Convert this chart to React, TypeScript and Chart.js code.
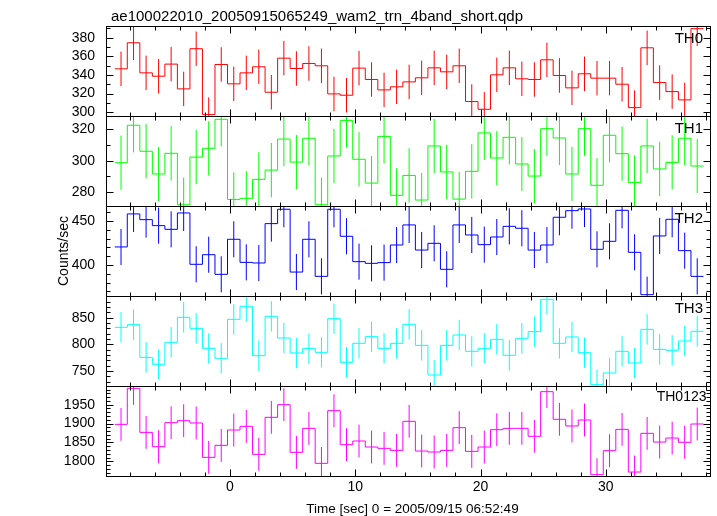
import React, { useEffect, useRef } from "react";
import { Chart, registerables } from "chart.js";

Chart.register(...registerables);

const TITLE = "ae100022010_20050915065249_wam2_trn_4band_short.qdp";
const X_TITLE = "Time [sec] 0 = 2005/09/15 06:52:49";
const Y_TITLE = "Counts/sec";
const PANEL_NAMES = ["TH0", "TH1", "TH2", "TH3", "TH0123"];
const COLORS = ["#ff0000", "#00ff00", "#0000ff", "#00ffff", "#ff00ff"];

// bin centres (s), 1 s bins
const BIN_WIDTH = 1;
const times = [
  -8.7, -7.7, -6.7, -5.7, -4.7, -3.7, -2.7, -1.7, -0.7, 0.3,
  1.3, 2.3, 3.3, 4.3, 5.3, 6.3, 7.3, 8.3, 9.3, 10.3,
  11.3, 12.3, 13.3, 14.3, 15.3, 16.3, 17.3, 18.3, 19.3, 20.3,
  21.3, 22.3, 23.3, 24.3, 25.3, 26.3, 27.3, 28.3, 29.3, 30.3,
  31.3, 32.3, 33.3, 34.3, 35.3, 36.3, 37.3,
];

const th0 = [
  346.6, 374.6, 342.3, 338.7, 351.7, 325.1, 368.2, 297.5, 351.3, 330.5,
  342.3, 348.8, 321.5, 358.1, 347.0, 352.4, 349.9, 319.7, 318.3, 347.4,
  335.2, 324.0, 327.3, 332.6, 337.0, 347.7, 343.4, 349.9, 311.5, 303.2,
  340.2, 347.7, 335.9, 335.2, 356.3, 339.5, 326.2, 341.3, 336.6, 336.6,
  330.1, 305.0, 369.2, 331.9, 322.2, 313.3, 389.7,
];
const th1 = [
  298.7, 322.6, 306.0, 291.5, 304.7, 271.9, 302.3, 307.9, 326.4, 275.3,
  276.0, 288.1, 294.0, 313.8, 299.1, 314.3, 271.9, 303.0, 325.7, 300.9,
  285.7, 315.5, 277.9, 290.6, 274.9, 309.4, 292.8, 275.5, 293.2, 317.7,
  301.7, 314.9, 297.9, 290.2, 320.4, 314.5, 291.5, 320.4, 284.3, 316.2,
  304.5, 286.0, 309.4, 294.7, 298.9, 314.3, 296.6,
];
const th2 = [
  420.5, 458.0, 451.5, 444.7, 440.5, 459.1, 400.8, 411.7, 389.4, 429.2,
  403.0, 402.3, 447.0, 463.3, 392.0, 429.2, 387.1, 463.3, 432.6, 403.8,
  401.9, 402.7, 422.7, 445.5, 417.0, 424.6, 395.1, 445.5, 434.1, 423.1,
  431.8, 443.9, 441.7, 417.0, 422.7, 454.2, 461.7, 463.6, 417.8, 426.9,
  462.1, 414.4, 366.3, 433.0, 451.9, 416.3, 387.1,
];
const th3 = [
  831.9, 836.9, 775.6, 762.5, 803.8, 850.6, 830.0, 792.5, 773.8, 846.9,
  871.3, 778.8, 852.5, 811.9, 783.8, 791.9, 785.0, 848.1, 766.3, 801.9,
  814.4, 792.5, 801.9, 837.5, 798.1, 742.5, 798.1, 817.5, 786.9, 792.5,
  809.4, 779.4, 811.3, 823.8, 884.4, 801.9, 813.8, 784.4, 724.4, 746.3,
  786.9, 765.0, 828.1, 790.6, 788.8, 806.3, 824.4,
];
const th0123 = [
  1897.9, 1993.2, 1876.7, 1838.8, 1902.3, 1907.6, 1901.5, 1810.5, 1842.3, 1882.9,
  1892.6, 1818.5, 1916.5, 1950.0, 1823.8, 1887.3, 1794.7, 1934.1, 1844.1, 1853.8,
  1837.9, 1834.4, 1829.0, 1905.9, 1827.3, 1824.7, 1829.0, 1889.1, 1826.4, 1837.9,
  1883.8, 1887.3, 1887.3, 1866.2, 1984.4, 1911.2, 1893.5, 1909.4, 1764.7, 1828.2,
  1884.7, 1771.7, 1874.1, 1851.1, 1861.7, 1850.3, 1898.8,
];
const SERIES = [th0, th1, th2, th3, th0123];
const ERRORS = [18.5, 17.3, 20.5, 28.5, 43.5];

const Y_MIN = [296, 271.1, 364.8, 721.9, 1761.2];
const Y_MAX = [392.6, 328.5, 467, 890.6, 1999.4];
const Y_MAJOR = [20, 20, 50, 50, 50];
const Y_MINOR = [10, 10, 10, 10, 10];
const X_MIN = -9.9;
const X_MAX = 38.4;
const X_MAJOR = 10;
const X_MINOR = 2;

const FONT = "'Liberation Sans', Arial, Helvetica, sans-serif";
Chart.defaults.font.family = FONT;

const isMult = (v: number, step: number) => Math.abs(v / step - Math.round(v / step)) < 1e-6;

function stepTicks(min: number, max: number, step: number) {
  const out: { value: number }[] = [];
  for (let v = Math.ceil(min / step) * step; v <= max + 1e-9; v += step) {
    out.push({ value: Math.round(v * 1000) / 1000 });
  }
  return out;
}

const panelClip = {
  id: "panelClip",
  beforeDatasetDraw(chart: any, args: any) {
    const ys = chart.scales[args.meta.yAxisID];
    const a = chart.chartArea;
    const ctx = chart.ctx;
    ctx.save();
    ctx.beginPath();
    ctx.rect(a.left, ys.top, a.right - a.left, ys.bottom - ys.top);
    ctx.clip();
  },
  afterDatasetDraw(chart: any) {
    chart.ctx.restore();
  },
};

const frame = {
  id: "frame",
  afterDraw(chart: any) {
    const ctx = chart.ctx;
    const a = chart.chartArea;
    const L = Math.floor(a.left) + 0.5;
    const R = Math.ceil(a.right) - 0.5;
    const xs = chart.scales.x;
    ctx.save();
    ctx.strokeStyle = "#000";
    ctx.lineWidth = 1;
    const bounds: number[] = [];
    for (let i = 0; i < 5; i++) {
      const ys = chart.scales["y" + i];
      const T = Math.floor(ys.top) + 0.5;
      const B = Math.floor(ys.bottom) + 0.5;
      bounds.push(T);
      if (i === 4) bounds.push(B);
      ctx.strokeRect(L, T, R - L, B - T);
      // y ticks (major + minor)
      ctx.beginPath();
      stepTicks(Y_MIN[i], Y_MAX[i], Y_MINOR[i]).forEach(({ value }) => {
        const y = Math.round(ys.getPixelForValue(value)) + 0.5;
        const len = isMult(value, Y_MAJOR[i]) ? 7 : 4;
        ctx.moveTo(L, y);
        ctx.lineTo(L + len, y);
        ctx.moveTo(R, y);
        ctx.lineTo(R - len, y);
      });
      ctx.stroke();
      // panel label
      ctx.fillStyle = "#000";
      ctx.textBaseline = "alphabetic";
      ctx.textAlign = "right";
      if (i < 4) {
        ctx.font = `15px ${FONT}`;
        ctx.fillText(PANEL_NAMES[i], 703, ys.top + 17.3);
      } else {
        ctx.font = `14px ${FONT}`;
        ctx.fillText(PANEL_NAMES[i], 706.5, ys.top + 15);
      }
    }
    // x ticks at every panel boundary
    ctx.beginPath();
    stepTicks(X_MIN, X_MAX, X_MINOR).forEach(({ value }) => {
      const x = Math.round(xs.getPixelForValue(value)) + 0.5;
      const len = isMult(value, X_MAJOR) ? 7 : 4;
      bounds.forEach((b, k) => {
        if (k > 0) {
          ctx.moveTo(x, b);
          ctx.lineTo(x, b - len);
        }
        if (k < bounds.length - 1) {
          ctx.moveTo(x, b);
          ctx.lineTo(x, b + len);
        }
      });
    });
    ctx.stroke();
    // titles
    ctx.fillStyle = "#000";
    ctx.textBaseline = "alphabetic";
    ctx.textAlign = "left";
    ctx.font = `15px ${FONT}`;
    ctx.fillText(TITLE, 111, 20.7);
    ctx.textAlign = "center";
    ctx.font = `13.5px ${FONT}`;
    ctx.fillText(X_TITLE, 412.5, 513.3);
    ctx.save();
    ctx.translate(68, 251);
    ctx.rotate(-Math.PI / 2);
    ctx.font = `14px ${FONT}`;
    ctx.fillText(Y_TITLE, 0, 0);
    ctx.restore();
    ctx.restore();
  },
};

function buildDatasets() {
  const ds: any[] = [];
  SERIES.forEach((vals, i) => {
    const steps = times.map((t, j) => ({ x: t - BIN_WIDTH / 2, y: vals[j] }));
    steps.push({ x: times[times.length - 1] + BIN_WIDTH / 2, y: vals[vals.length - 1] });
    ds.push({
      data: steps,
      yAxisID: "y" + i,
      xAxisID: "x",
      borderColor: COLORS[i],
      borderWidth: 1,
      pointRadius: 0,
      stepped: true,
      fill: false,
    });
    const errs: any[] = [];
    times.forEach((t, j) => {
      errs.push({ x: t, y: vals[j] - ERRORS[i] });
      errs.push({ x: t, y: vals[j] + ERRORS[i] });
      errs.push({ x: t, y: null });
    });
    ds.push({
      data: errs,
      yAxisID: "y" + i,
      xAxisID: "x",
      borderColor: COLORS[i],
      borderWidth: 1,
      pointRadius: 0,
      spanGaps: false,
      fill: false,
    });
  });
  return ds;
}

function yScale(i: number) {
  return {
    type: "linear",
    position: "left",
    stack: "panels",
    stackWeight: 1,
    min: Y_MIN[i],
    max: Y_MAX[i],
    afterBuildTicks: (s: any) => {
      s.ticks = stepTicks(Y_MIN[i], Y_MAX[i], Y_MAJOR[i]);
    },
    afterFit: (s: any) => {
      s.width = 106;
    },
    grid: { display: false, drawTicks: false },
    border: { display: false },
    ticks: {
      autoSkip: false,
      color: "#000",
      font: { size: 14, family: FONT },
      padding: 11,
      callback: (v: any) => String(v),
    },
  };
}

export default function App() {
  const ref = useRef<HTMLCanvasElement>(null);
  useEffect(() => {
    if (!ref.current) return;
    const chart = new Chart(ref.current, {
      type: "line",
      data: { datasets: buildDatasets() },
      options: {
        responsive: false,
        animation: false,
        devicePixelRatio: 1,
        layout: { padding: { left: 0, top: 26, right: 6, bottom: 0 } },
        plugins: { legend: { display: false }, tooltip: { enabled: false }, title: { display: false } },
        scales: {
          x: {
            type: "linear",
            position: "bottom",
            min: X_MIN,
            max: X_MAX,
            afterBuildTicks: (s: any) => {
              s.ticks = stepTicks(X_MIN, X_MAX, X_MAJOR);
            },
            afterFit: (s: any) => {
              s.height = 40;
            },
            grid: { display: false, drawTicks: false },
            border: { display: false },
            ticks: {
              autoSkip: false,
              maxRotation: 0,
              color: "#000",
              font: { size: 14, family: FONT },
              padding: 3,
              callback: (v: any) => String(v),
            },
          },
          y4: yScale(4),
          y3: yScale(3),
          y2: yScale(2),
          y1: yScale(1),
          y0: yScale(0),
        } as any,
      },
      plugins: [panelClip, frame],
    } as any);
    return () => chart.destroy();
  }, []);
  return (
    <div style={{ position: "absolute", left: 0, top: 0, width: 717, height: 516, background: "#fff" }}>
      <canvas ref={ref} width={717} height={516} style={{ display: "block", width: 717, height: 516 }} />
    </div>
  );
}
